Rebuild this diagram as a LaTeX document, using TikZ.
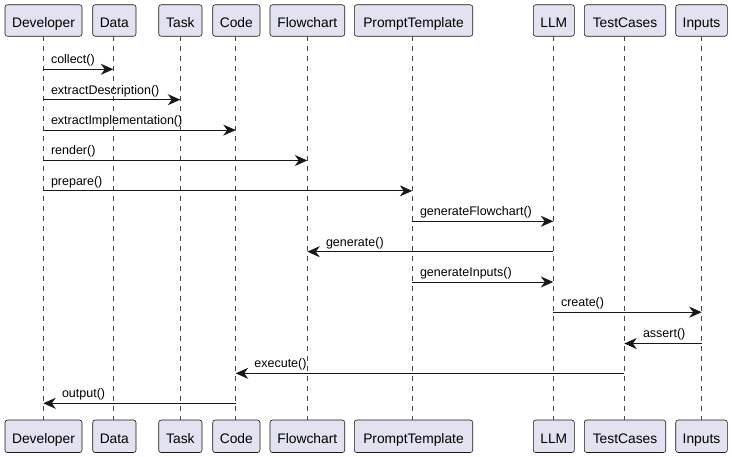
\documentclass[tikz,border=0pt]{standalone}
\usepackage{fontspec}
\setmainfont{Liberation Sans}
\usetikzlibrary{arrows.meta}
\definecolor{boxfill}{HTML}{E2E2F0}
\definecolor{ink}{HTML}{181818}
\begin{document}
\begin{tikzpicture}[x=1pt,y=-1pt,
  partbox/.style={draw=ink,fill=boxfill,rounded corners=2.5pt,line width=0.6pt,inner sep=0pt,font=\fontsize{13.8}{16}\selectfont,text=black,text height=13.6pt,text depth=0pt},
  lifeline/.style={draw=ink!80,dash pattern=on 5pt off 5pt,line width=0.5pt},
  msg/.style={draw=ink,line width=0.9pt,-{Stealth[length=12.5pt,width=11pt,inset=4pt]}},
  lbl/.style={font=\fontsize{12.5}{15}\selectfont,inner sep=0pt,anchor=base west,text=black}]
\useasboundingbox (0,0) rectangle (732,457);
% participants: name, left, right, lifeline x
\foreach \n/\t/\l/\r/\c in {dev/Developer/5/82/43.3, data/Data/92.7/136/113.3, task/Task/158.7/202/180.3, code/Code/212.7/260/235.7, flow/Flowchart/270/344.7/307.3, prompt/PromptTemplate/354.3/472.7/412.3, llm/LLM/533.3/574.3/553.3, tc/TestCases/584.3/665.7/624.3, inp/Inputs/675.7/727.3/701.7}{
  \node[partbox,minimum width=\r-\l,minimum height=31.5] (\n top) at ({(\l+\r)/2},20.5) {\t};
  \node[partbox,minimum width=\r-\l,minimum height=32.5] (\n bot) at ({(\l+\r)/2},436.3) {\t};
  \draw[lifeline] (\c,36.3) -- (\c,420);
  \coordinate (\n) at (\c,0);
}
% messages
\newcommand{\rmsg}[4]{% from, to, y, label
  \coordinate (a) at (#1 |- 0,#3); \coordinate (b) at (#2 |- 0,#3);
  \draw[msg] (a) -- (b);
  \node[lbl] at ([xshift=7.5pt,yshift=5.5pt]a) {#4};}
\newcommand{\lmsg}[4]{% from, to, y, label (leftward)
  \coordinate (a) at (#1 |- 0,#3); \coordinate (b) at (#2 |- 0,#3);
  \draw[msg] (a) -- (b);
  \node[lbl] at ([xshift=18.5pt,yshift=5.5pt]b) {#4};}
\rmsg{dev}{data}{69.3}{collect()}
\rmsg{dev}{task}{99.7}{extractDescription()}
\rmsg{dev}{code}{130.1}{extractImplementation()}
\rmsg{dev}{flow}{160.5}{render()}
\rmsg{dev}{prompt}{190.9}{prepare()}
\rmsg{prompt}{llm}{221.3}{generateFlowchart()}
\lmsg{llm}{flow}{251.7}{generate()}
\rmsg{prompt}{llm}{282.0}{generateInputs()}
\rmsg{llm}{inp}{312.2}{create()}
\lmsg{inp}{tc}{343.5}{assert()}
\lmsg{tc}{code}{373.3}{execute()}
\lmsg{code}{dev}{403.3}{output()}
\end{tikzpicture}
\end{document}
